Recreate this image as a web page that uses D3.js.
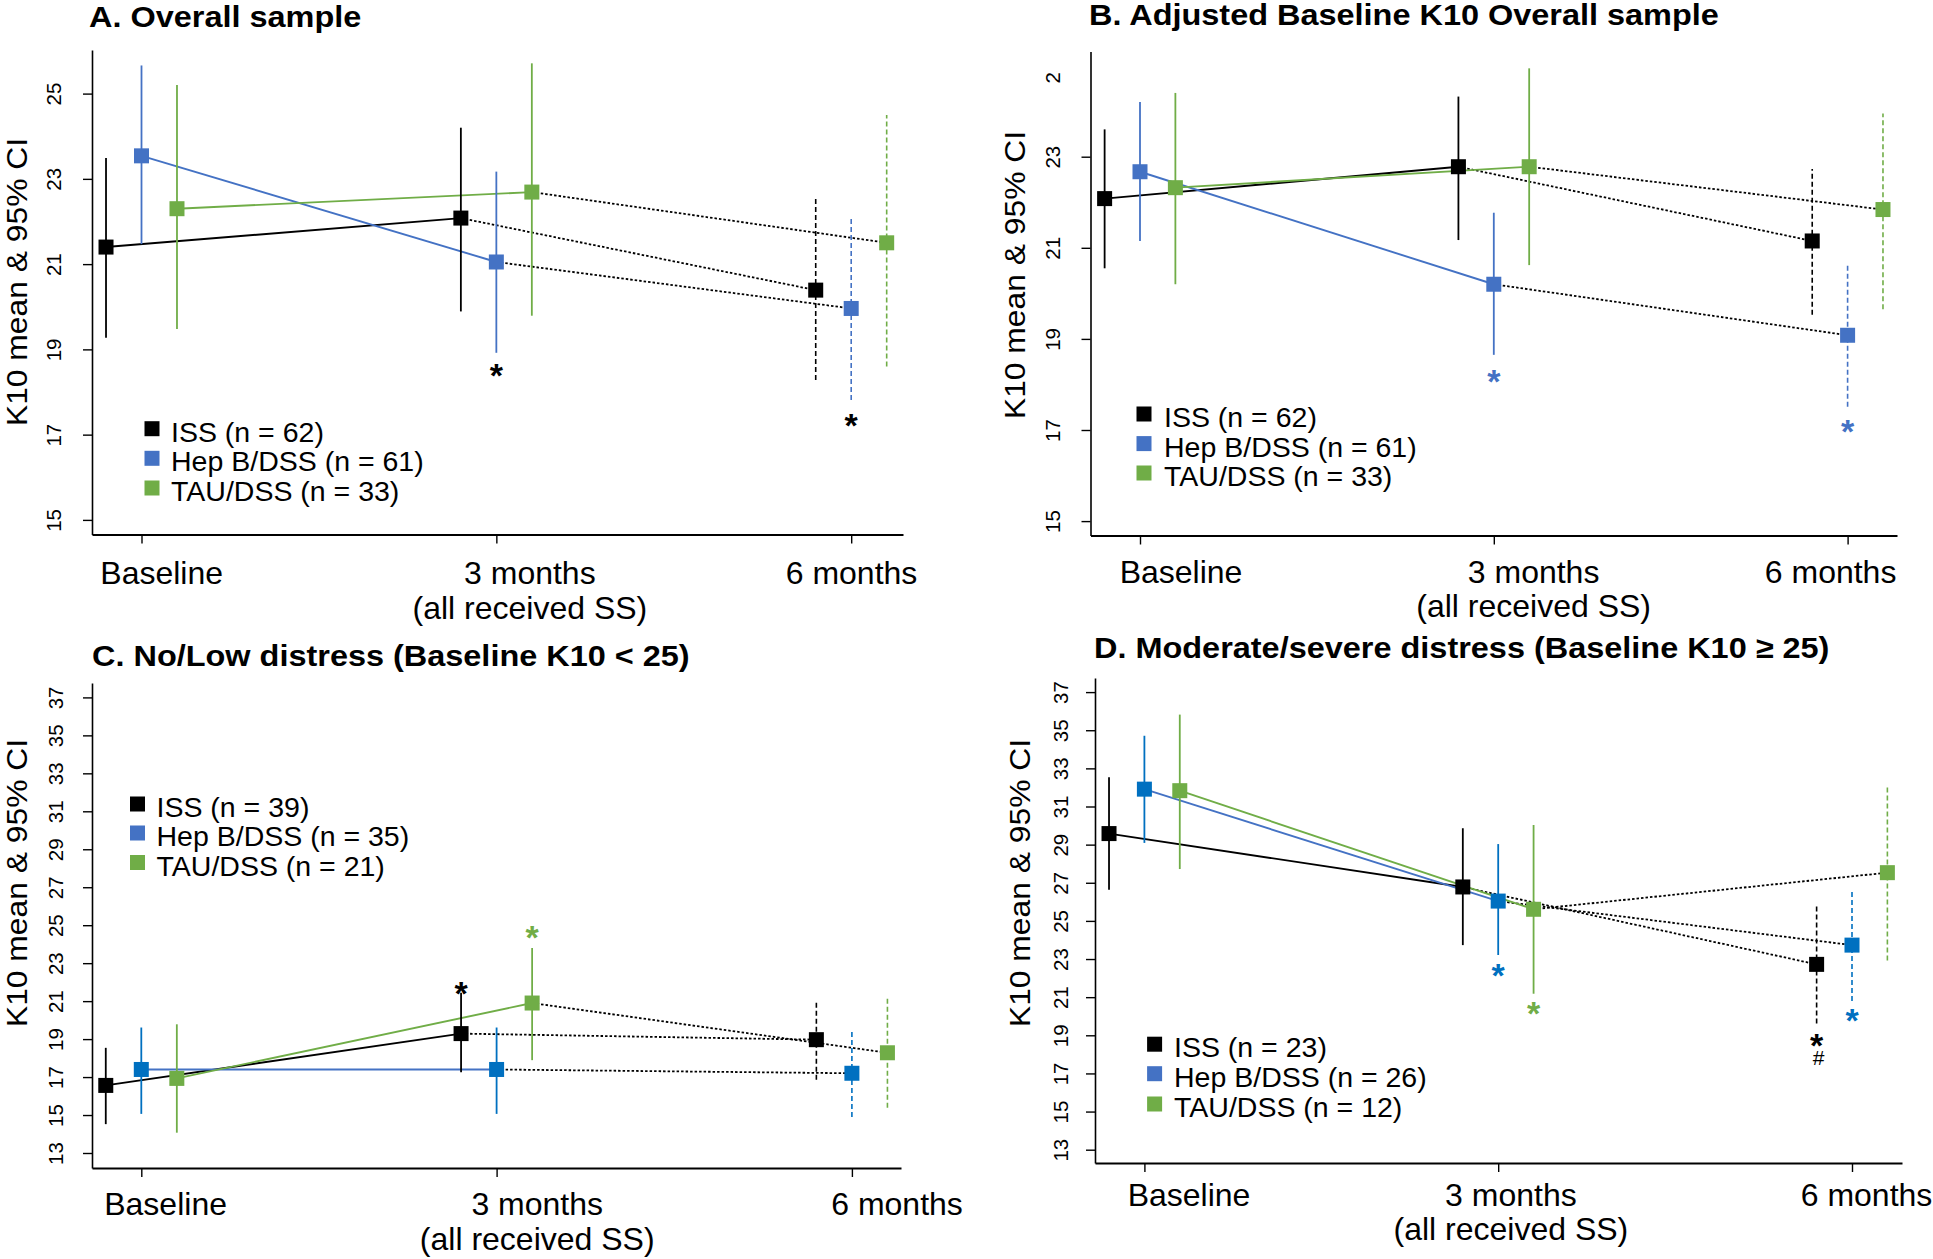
<!DOCTYPE html>
<html><head><meta charset="utf-8">
<script src="https://cdn.jsdelivr.net/npm/d3@7"></script>
<style>
html,body{margin:0;padding:0;background:#fff;}
svg{display:block;font-family:"Liberation Sans",Arial,Helvetica,sans-serif;}
</style>
</head><body>
<svg id="chart" width="1933" height="1259"></svg>
<script>
// ---------- DATA ----------
const timepoints = ["Baseline", "3 months", "6 months"];
const timeSubLabels = ["", "(all received SS)", ""];
const groups = ["ISS", "Hep B/DSS", "TAU/DSS"];
const panelTitles = [
  "A. Overall sample",
  "B. Adjusted Baseline K10 Overall sample",
  "C. No/Low distress (Baseline K10 < 25)",
  "D. Moderate/severe distress (Baseline K10 \u2265 25)"
];
const yAxisTitle = "K10 mean & 95% CI";

const nA = [62, 61, 33];
const nB = [62, 61, 33];
const nC = [39, 35, 21];
const nD = [23, 26, 12];

const yTicksAB = [15, 17, 19, 21, 23, 25];
const yTicksCD = [13, 15, 17, 19, 21, 23, 25, 27, 29, 31, 33, 35, 37];

// rows: ISS, Hep B/DSS, TAU/DSS ; columns: Baseline, 3 months, 6 months
const aMean = [[21.40, 22.08, 20.39], [23.54, 21.05, 19.96], [22.30, 22.69, 21.50]];
const aLow  = [[19.27, 19.89, 18.28], [21.47, 18.92, 17.81], [19.48, 19.79, 18.60]];
const aHigh = [[23.49, 24.20, 22.60], [25.66, 23.17, 22.10], [25.20, 25.71, 24.50]];

const bMean = [[22.08, 22.78, 21.15], [22.67, 20.20, 19.08], [22.32, 22.78, 21.84]];
const bLow  = [[20.55, 21.17, 19.53], [21.15, 18.65, 17.51], [20.20, 20.62, 19.65]];
const bHigh = [[23.60, 24.32, 22.73], [24.20, 21.77, 20.66], [24.40, 24.94, 23.95]];

const cMean = [[16.56, 19.29, 18.97], [17.40, 17.40, 17.20], [16.93, 20.90, 18.28]];
const cLow  = [[14.52, 17.25, 16.86], [15.06, 15.06, 14.89], [14.07, 17.89, 15.38]];
const cHigh = [[18.54, 21.44, 20.96], [19.61, 19.61, 19.50], [19.78, 23.80, 21.18]];

const dMean = [[29.58, 26.78, 22.72], [31.91, 26.04, 23.73], [31.83, 25.61, 27.53]];
const dLow  = [[26.63, 23.73, 19.62], [29.09, 23.21, 20.80], [27.72, 21.18, 22.92]];
const dHigh = [[32.53, 29.86, 25.76], [34.71, 29.03, 26.53], [35.82, 30.03, 32.02]];

// significance marks: time index, group index (x offset), value, symbol, colour group
const aMarks = [{t: 1, g: 1, v: 18.57, s: "*", c: 0}, {t: 2, g: 1, v: 17.40, s: "*", c: 0}];
const bMarks = [{t: 1, g: 1, v: 18.22, s: "*", c: 1}, {t: 2, g: 1, v: 17.13, s: "*", c: 1}];
const cMarks = [{t: 1, g: 0, v: 21.80, s: "*", c: 0}, {t: 1, g: 2, v: 24.77, s: "*", c: 2}];
const dMarks = [{t: 1, g: 1, v: 22.51, s: "*", c: 1}, {t: 1, g: 2, v: 20.52, s: "*", c: 2},
                {t: 2, g: 0, v: 18.85, s: "*", c: 0}, {t: 2, g: 0, v: 17.85, s: "#", c: 0},
                {t: 2, g: 1, v: 20.16, s: "*", c: 1}];

// ---------- STYLE / LAYOUT ----------
const groupOffset = [-0.1, 0, 0.1];
const legendColors = ["#000000", "#4472C4", "#70AD47"];
const lineColors = ["#000000", "#4472C4", "#70AD47"];

const svg = d3.select("#chart");
svg.append("rect").attr("width", 1933).attr("height", 1259).attr("fill", "#fff");

const panels = [
  {title: panelTitles[0], mean: aMean, low: aLow, high: aHigh, n: nA, marks: aMarks, yTicks: yTicksAB,
   frame: {left: 92, right: 903, top: 50, bottom: 534.5}, xCal: [141.5, 851.2], yCal: [15, 519.9, 25, 93.6],
   markColors: ["#000000", "#4472C4", "#70AD47"], tickGap: 31,
   titleX: 89, titleY: 27, yLabX: 26.5, yLabY: 282,
   labDx: [20.2, 33.5, 0.3], labY: [583.5, 618.5],
   legX: 152, legTX: 171, legY: [428.7, 458.3, 488]},
  {title: panelTitles[1], mean: bMean, low: bLow, high: bHigh, n: nB, marks: bMarks, yTicks: yTicksAB,
   frame: {left: 1090.5, right: 1897, top: 51.5, bottom: 535.5}, xCal: [1140, 1847.6], yCal: [15, 521.1, 23, 156.7],
   markColors: ["#000000", "#4472C4", "#70AD47"], tickGap: 31, clipTick: 25, clipAbove: 71,
   titleX: 1089, titleY: 25, yLabX: 1025, yLabY: 275,
   labDx: [41, 39.8, -17], labY: [583, 617],
   legX: 1144, legTX: 1164, legY: [414, 443.6, 473]},
  {title: panelTitles[2], mean: cMean, low: cLow, high: cHigh, n: nC, marks: cMarks, yTicks: yTicksCD,
   frame: {left: 92, right: 901, top: 683, bottom: 1168}, xCal: [141.3, 851.9], yCal: [13, 1153, 37, 697.4],
   markColors: ["#000000", "#0070C0", "#70AD47"], tickGap: 29.5,
   titleX: 92, titleY: 666, yLabX: 27, yLabY: 883,
   labDx: [24.3, 40.6, 45.1], labY: [1215, 1250],
   legX: 137.5, legTX: 156.5, legY: [804, 833, 862.5]},
  {title: panelTitles[3], mean: dMean, low: dLow, high: dHigh, n: nD, marks: dMarks, yTicks: yTicksCD,
   frame: {left: 1095, right: 1902, top: 678, bottom: 1163}, xCal: [1144.4, 1852], yCal: [13, 1149.7, 37, 692.1],
   markColors: ["#000000", "#0070C0", "#70AD47"], tickGap: 27,
   titleX: 1094, titleY: 658, yLabX: 1029.5, yLabY: 883,
   labDx: [44.6, 12.7, 14.5], labY: [1205.5, 1240],
   legX: 1154.6, legTX: 1174, legY: [1044.2, 1073.7, 1104]}
];

panels.forEach((cfg, pi) => {
  const g = svg.append("g");
  const f = cfg.frame;
  const yCalS = d3.scaleLinear().domain([cfg.yCal[0], cfg.yCal[2]]).range([cfg.yCal[1], cfg.yCal[3]]);
  const y = d3.scaleLinear().domain([yCalS.invert(f.bottom), yCalS.invert(f.top)]).range([f.bottom, f.top]);
  const xCalS = d3.scaleLinear().domain([0, 2]).range(cfg.xCal);
  const x = d3.scaleLinear().domain([xCalS.invert(f.left), xCalS.invert(f.right)]).range([f.left, f.right]);

  // y axis
  const ya = g.append("g").attr("transform", `translate(${f.left},0)`)
    .call(d3.axisLeft(y).tickValues(cfg.yTicks).tickSize(9).tickSizeOuter(0).tickFormat(d3.format("d")));
  ya.attr("font-family", null).attr("font-size", null);
  ya.select(".domain").attr("stroke-width", 1.6).attr("stroke", "#000");
  ya.selectAll(".tick line").attr("stroke-width", 1.4).attr("stroke", "#000");
  ya.selectAll(".tick text")
    .attr("transform", "rotate(-90)").attr("x", 0).attr("y", -cfg.tickGap).attr("dy", 0)
    .attr("text-anchor", "middle").attr("font-size", 20.5).attr("fill", "#000");
  if (cfg.clipTick !== undefined) {
    const tk = ya.selectAll(".tick").filter(d => d === cfg.clipTick);
    tk.select("line").remove();
    const cid = "clip" + pi;
    const ty = y(cfg.clipTick);
    svg.append("defs").append("clipPath").attr("id", cid).attr("clipPathUnits", "userSpaceOnUse")
      .append("rect").attr("x", -200).attr("y", cfg.clipAbove - ty).attr("width", 400).attr("height", 400);
    tk.attr("clip-path", `url(#${cid})`);
    tk.select("text").attr("text-anchor", "start").attr("x", -(83 - ty));
  }

  // x axis
  const xa = g.append("g").attr("transform", `translate(0,${f.bottom})`)
    .call(d3.axisBottom(x).tickValues([0, 1, 2]).tickSize(9).tickSizeOuter(0).tickFormat(""));
  xa.select(".domain").attr("stroke-width", 2.2).attr("stroke", "#000");
  xa.selectAll(".tick line").attr("stroke-width", 1.4).attr("stroke", "#000");

  timepoints.forEach((lab, i) => {
    g.append("text").attr("x", x(i) + cfg.labDx[i]).attr("y", cfg.labY[0])
      .attr("text-anchor", "middle").attr("font-size", 32).attr("fill", "#000").text(lab);
    if (timeSubLabels[i]) {
      g.append("text").attr("x", x(i) + cfg.labDx[i]).attr("y", cfg.labY[1])
        .attr("text-anchor", "middle").attr("font-size", 32).attr("fill", "#000").text(timeSubLabels[i]);
    }
  });

  // title
  g.append("text").attr("transform", `translate(${cfg.titleX},${cfg.titleY}) scale(1.1,1)`)
    .attr("font-size", 29.5).attr("font-weight", "bold").attr("fill", "#000").text(cfg.title);

  // y axis title
  g.append("text").attr("transform", `translate(${cfg.yLabX},${cfg.yLabY}) rotate(-90) scale(1.06,1)`)
    .attr("text-anchor", "middle").attr("font-size", 30).attr("fill", "#000").text(yAxisTitle);

  const px = (t, gi) => x(t + groupOffset[gi]);
  const lineGen = d3.line().x(d => px(d.t, d.g)).y(d => y(d.v));

  // connecting lines
  groups.forEach((grp, gi) => {
    const pts = cfg.mean[gi].map((v, t) => ({t, g: gi, v}));
    g.append("path").datum(pts.slice(0, 2)).attr("d", lineGen)
      .attr("fill", "none").attr("stroke", lineColors[gi]).attr("stroke-width", 1.9);
    g.append("path").datum(pts.slice(1, 3)).attr("d", lineGen)
      .attr("fill", "none").attr("stroke", "#000").attr("stroke-width", 1.8).attr("stroke-dasharray", "2.5,2");
  });

  // confidence intervals
  groups.forEach((grp, gi) => {
    cfg.mean[gi].forEach((v, t) => {
      g.append("line").attr("x1", px(t, gi)).attr("x2", px(t, gi))
        .attr("y1", y(cfg.low[gi][t])).attr("y2", y(cfg.high[gi][t]))
        .attr("stroke", cfg.markColors[gi]).attr("stroke-width", t === 2 ? 1.6 : 1.8)
        .attr("stroke-dasharray", t === 2 ? "5,3" : null);
    });
  });

  // markers
  groups.forEach((grp, gi) => {
    g.selectAll(null).data(cfg.mean[gi].map((v, t) => ({t, v}))).enter().append("rect")
      .attr("x", d => px(d.t, gi) - 7.5).attr("y", d => y(d.v) - 7.5)
      .attr("width", 15).attr("height", 15).attr("fill", cfg.markColors[gi]);
  });

  // significance marks
  cfg.marks.forEach(m => {
    const fs = m.s === "*" ? 34 : 21;
    const off = m.s === "*" ? 0.56 * fs : 0.36 * fs;
    g.append("text").attr("x", px(m.t, m.g) + (m.s === "#" ? 2 : 0)).attr("y", y(m.v) + off)
      .attr("text-anchor", "middle").attr("font-size", fs).attr("font-weight", m.s === "*" ? "bold" : "normal")
      .attr("fill", cfg.markColors[m.c]).text(m.s);
  });

  // legend
  groups.forEach((grp, gi) => {
    g.append("rect").attr("x", cfg.legX - 7.5).attr("y", cfg.legY[gi] - 7.5)
      .attr("width", 15).attr("height", 15).attr("fill", legendColors[gi]);
    g.append("text").attr("x", cfg.legTX).attr("y", cfg.legY[gi] + 13)
      .attr("font-size", 28.5).attr("fill", "#000").text(`${grp} (n = ${cfg.n[gi]})`);
  });
});
</script>
</body></html>
